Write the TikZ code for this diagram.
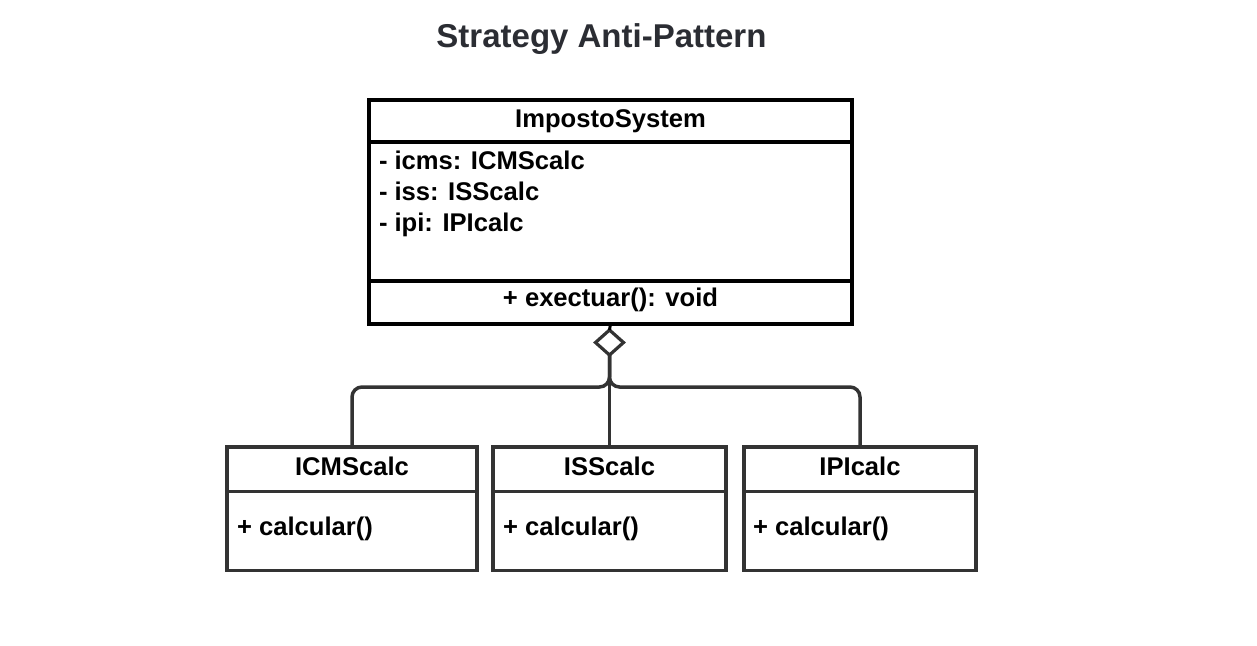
\documentclass[tikz,border=0pt]{standalone}
\usepackage{fontspec}
\setmainfont{Liberation Sans}
\usetikzlibrary{shapes.geometric}
\definecolor{titlecol}{HTML}{2B2D33}
\definecolor{linecol}{HTML}{333333}
\begin{document}
\begin{tikzpicture}[x=1pt,y=-1pt,
  mainbox/.style={draw=black, line width=3.5pt, rectangle, inner sep=0pt, outer sep=0pt, fill=white},
  subbox/.style={draw=linecol, line width=3.8pt, rectangle, inner sep=0pt, outer sep=0pt, fill=white},
  divmain/.style={draw=black, line width=3.5pt},
  divsub/.style={draw=linecol, line width=3.8pt},
  conn/.style={draw=linecol, line width=3.5pt, rounded corners=10pt},
  txt/.style={inner sep=0pt, outer sep=0pt, font=\fontsize{25.6}{30}\selectfont\bfseries, text=black},
  aggr/.style={diamond, draw=linecol, line width=3.2pt, fill=white, inner sep=0pt, outer sep=0pt, minimum width=28pt, minimum height=25pt}
]
\useasboundingbox (0,0) rectangle (1257,645);
\fill[white] (0,0) rectangle (1257,645);

% title
\node[anchor=base, inner sep=0pt, text=titlecol, font=\fontsize{33}{38}\selectfont\bfseries] (title) at (601.5,47) {Strategy Anti-Pattern};

% main class
\node[mainbox, minimum width=483pt, minimum height=224pt] (main) at (610.5,212) {};
\draw[divmain] (main.west |- 0,142) -- (main.east |- 0,142);
\draw[divmain] (main.west |- 0,281) -- (main.east |- 0,281);
\node[txt, anchor=base] (mname) at (610.5,127) {ImpostoSystem};
\node[txt, anchor=base west] (a1) at (379,169) {- icms: ICMScalc};
\node[txt, anchor=base west] (a2) at (379,200) {- iss: ISScalc};
\node[txt, anchor=base west] (a3) at (379,231) {- ipi: IPIcalc};
\node[txt, anchor=base] (m1) at (610.5,306) {+ exectuar(): void};

% sub classes
\node[subbox, minimum width=250pt, minimum height=123.5pt] (b1) at (352,508.75) {};
\node[subbox, minimum width=233pt, minimum height=123.5pt] (b2) at (609.5,508.75) {};
\node[subbox, minimum width=232pt, minimum height=123.5pt] (b3) at (860,508.75) {};
\foreach \b in {b1,b2,b3}{
  \draw[divsub] (\b.west |- 0,491.5) -- (\b.east |- 0,491.5);
}
\node[txt, anchor=base] (n1) at (352,475) {ICMScalc};
\node[txt, anchor=base] (n2) at (609.5,475) {ISScalc};
\node[txt, anchor=base] (n3) at (860,475) {IPIcalc};
\node[txt, anchor=base west] (c1) at (237,535) {+ calcular()};
\node[txt, anchor=base west] (c2) at (503,535) {+ calcular()};
\node[txt, anchor=base west] (c3) at (753,535) {+ calcular()};

% aggregation
\node[aggr] (agg) at (609.5,342.5) {};
\draw[conn] (agg.south) -- (agg.south |- 0,387) -- (b1.north |- 0,387) -- (b1.north);
\draw[conn] (agg.south) -- (agg.south |- 0,387) -- (b3.north |- 0,387) -- (b3.north);
\draw[conn] (agg.south) -- (b2.north);
\draw[draw=black, line width=3pt] (main.south) -- (agg.north);
\end{tikzpicture}
\end{document}
